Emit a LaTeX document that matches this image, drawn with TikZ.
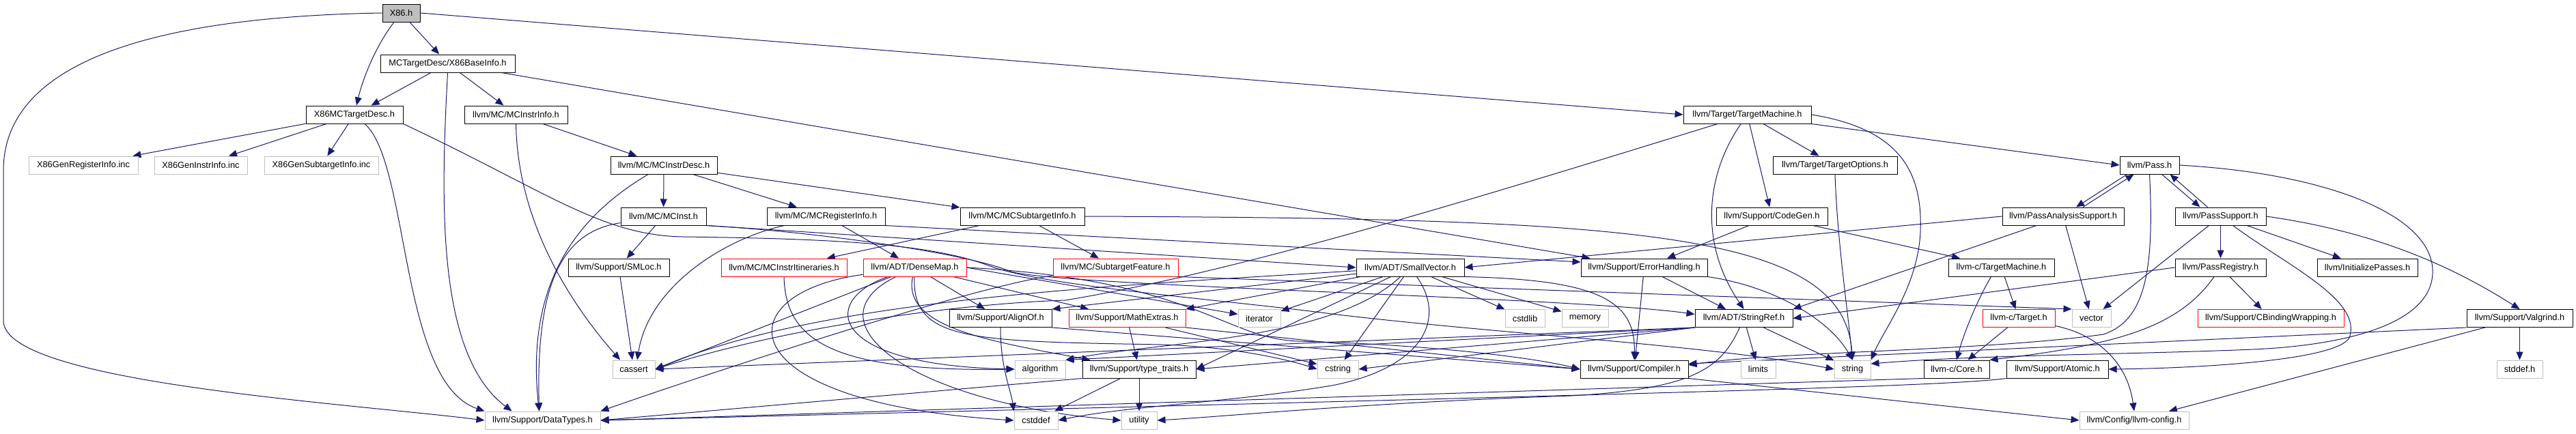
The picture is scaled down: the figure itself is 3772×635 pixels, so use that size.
\documentclass[tikz,border=0pt]{standalone}
\usepackage{fontspec}
\setmainfont{Liberation Sans}
\usetikzlibrary{arrows.meta}
\definecolor{edgeblue}{HTML}{191970}
\definecolor{fillgray}{HTML}{BFBFBF}
\definecolor{bordergray}{HTML}{BFBFBF}
\definecolor{borderred}{HTML}{FF0000}
\newcommand\dxfont{\fontsize{12.8}{15}\selectfont}
\pgfdeclarelayer{edges}
\pgfsetlayers{edges,main}
\tikzset{
  nbox/.style={draw=black, fill=white, line width=1.0pt, minimum height=26pt, inner sep=0pt, font=\dxfont},
  gbox/.style={nbox, draw=bordergray},
  rbox/.style={nbox, draw=borderred},
  lnk/.style={draw=edgeblue, line width=1.0pt, -{Triangle[length=12pt,width=10pt]}},
}
\begin{document}
\begin{tikzpicture}[x=1pt,y=-1pt]
\useasboundingbox (0,0) rectangle (3772,635);
% ---------------- nodes ----------------
\node[nbox, fill=fillgray, minimum width=55] (x86) at (587.5,19) {X86.h};
\node[nbox, minimum width=197] (base) at (655.5,93) {MCTargetDesc/X86BaseInfo.h};
\node[nbox, minimum width=142] (mctd) at (519,168) {X86MCTargetDesc.h};
\node[nbox, minimum width=151] (instrinfo) at (755.5,168) {llvm/MC/MCInstrInfo.h};
\node[nbox, minimum width=187] (tm) at (2558.5,168) {llvm/Target/TargetMachine.h};
\node[gbox, minimum width=160] (genreg) at (122,242) {X86GenRegisterInfo.inc};
\node[gbox, minimum width=136] (geninstr) at (294,242) {X86GenInstrInfo.inc};
\node[gbox, minimum width=167] (gensub) at (470.5,242) {X86GenSubtargetInfo.inc};
\node[nbox, minimum width=156] (instrdesc) at (972,242) {llvm/MC/MCInstrDesc.h};
\node[nbox, minimum width=182] (topts) at (2687,242) {llvm/Target/TargetOptions.h};
\node[nbox, minimum width=87] (pass) at (3147.5,242) {llvm/Pass.h};
\node[nbox, minimum width=125] (mcinst) at (971.5,317) {llvm/MC/MCInst.h};
\node[nbox, minimum width=173] (reginfo) at (1209.5,317) {llvm/MC/MCRegisterInfo.h};
\node[nbox, minimum width=182] (subinfo) at (1497,317) {llvm/MC/MCSubtargetInfo.h};
\node[nbox, minimum width=163] (codegen) at (2594.5,317) {llvm/Support/CodeGen.h};
\node[nbox, minimum width=178] (pas) at (3021,317) {llvm/PassAnalysisSupport.h};
\node[nbox, minimum width=133] (ps) at (3251.5,317) {llvm/PassSupport.h};
\node[nbox, minimum width=148] (smloc) at (906,392) {llvm/Support/SMLoc.h};
\node[rbox, minimum width=184] (itin) at (1148,392) {llvm/MC/MCInstrItineraries.h};
\node[rbox, minimum width=151] (dm) at (1339.5,392) {llvm/ADT/DenseMap.h};
\node[rbox, minimum width=183] (subfeat) at (1633.5,392) {llvm/MC/SubtargetFeature.h};
\node[nbox, minimum width=158] (sv) at (2065,392) {llvm/ADT/SmallVector.h};
\node[nbox, minimum width=185] (errh) at (2407.5,392) {llvm/Support/ErrorHandling.h};
\node[nbox, minimum width=155] (ctm) at (2930.5,392) {llvm-c/TargetMachine.h};
\node[nbox, minimum width=133] (preg) at (3251.5,392) {llvm/PassRegistry.h};
\node[nbox, minimum width=147] (initp) at (3466.5,392) {llvm/InitializePasses.h};
\node[nbox, minimum width=150] (alignof) at (1465,466.5) {llvm/Support/AlignOf.h};
\node[rbox, minimum width=171] (mathex) at (1650.5,466.5) {llvm/Support/MathExtras.h};
\node[gbox, minimum width=62] (iterator) at (1844,466.5) {iterator};
\node[gbox, minimum width=58] (cstdlib) at (2233,466.5) {cstdlib};
\node[gbox, minimum width=68] (memory) at (2321,466.5) {memory};
\node[nbox, minimum width=143] (sr) at (2553.5,466.5) {llvm/ADT/StringRef.h};
\node[rbox, minimum width=106] (ctarget) at (2956,466.5) {llvm-c/Target.h};
\node[gbox, minimum width=57] (vector) at (3062.5,466.5) {vector};
\node[rbox, minimum width=214] (cbind) at (3325,466.5) {llvm/Support/CBindingWrapping.h};
\node[nbox, minimum width=155] (valgrind) at (3689.5,466.5) {llvm/Support/Valgrind.h};
\node[gbox, minimum width=62] (cassert) at (928,541) {cassert};
\node[gbox, minimum width=74] (algorithm) at (1523,541) {algorithm};
\node[nbox, minimum width=166] (tt) at (1668,541) {llvm/Support/type\_traits.h};
\node[gbox, minimum width=60] (cstring) at (1959,541) {cstring};
\node[nbox, minimum width=158] (compiler) at (2393,541) {llvm/Support/Compiler.h};
\node[gbox, minimum width=51] (limits) at (2574.5,541) {limits};
\node[gbox, minimum width=53] (string) at (2712.5,541) {string};
\node[nbox, minimum width=96] (ccore) at (2865,541) {llvm-c/Core.h};
\node[nbox, minimum width=149] (atomic) at (3012.5,541) {llvm/Support/Atomic.h};
\node[gbox, minimum width=67] (stddef) at (3689.5,541) {stddef.h};
\node[gbox, minimum width=169] (dt) at (794.5,616) {llvm/Support/DataTypes.h};
\node[gbox, minimum width=64] (cstddef) at (1517,616) {cstddef};
\node[gbox, minimum width=52] (utility) at (1668,616) {utility};
\node[gbox, minimum width=160] (cfg) at (3125,616) {llvm/Config/llvm-config.h};
% ---------------- edges ----------------
\begin{pgfonlayer}{edges}
\fill[white] (0,0) rectangle (3772,635);
% X86.h
\draw[lnk] (x86) -- (base);
\draw[lnk] (x86) .. controls (548,70) and (530,120) .. (mctd);
\draw[lnk] (x86.west) .. controls (200,25) and (5,100) .. (5,250) -- (5,470) .. controls (5,560) and (500,590) .. (dt.west);
\draw[lnk] (x86.east) -- (tm.west);
% X86BaseInfo.h
\draw[lnk] (base) -- (mctd);
\draw[lnk] (base) -- (instrinfo);
\draw[lnk] (base.south) .. controls (645,300) and (640,520) .. ([xshift=-45pt]dt.north);
\draw[lnk] (base) -- (errh);
% X86MCTargetDesc.h
\draw[lnk] (mctd) -- (genreg);
\draw[lnk] (mctd) -- (geninstr);
\draw[lnk] (mctd) -- (gensub);
\draw[lnk] (mctd) .. controls (600,240) and (585,560) .. (dt.north west);
\draw[lnk] (mctd.south east) .. controls (800,280) and (880,345) .. (1000,347) .. controls (1250,350) and (1370,360) .. (1450,390) .. controls (1530,420) and (1800,440) .. (1950,460) .. controls (2200,490) and (2500,505) .. (string.west);
% MCInstrInfo.h
\draw[lnk] (instrinfo) -- (instrdesc);
\draw[lnk] (instrinfo.south) .. controls (758,330) and (840,450) .. ([xshift=-20pt]cassert.north);
% MCInstrDesc.h
\draw[lnk] (instrdesc) -- (mcinst);
\draw[lnk] (instrdesc) -- (reginfo);
\draw[lnk] (instrdesc) -- (subinfo);
\draw[lnk] (instrdesc) .. controls (840,320) and (770,420) .. ([xshift=-5pt]dt.north);
% MCInst.h
\draw[lnk] (mcinst) -- (smloc);
\draw[lnk] (mcinst) .. controls (820,340) and (785,420) .. ([xshift=-5pt]dt.north);
\draw[lnk] (mcinst.south east) -- (sv.west);
\draw[lnk] (mcinst.south east) .. controls (1200,340) and (1420,372) .. (1480,398) .. controls (1560,420) and (2300,435) .. ([yshift=6pt]sr.west);
% MCRegisterInfo.h
\draw[lnk] (reginfo) -- (dm);
\draw[lnk] (reginfo.south east) -- ([yshift=8pt]errh.west);
\draw[lnk] (reginfo) .. controls (1060,350) and (950,420) .. ([xshift=5pt]cassert.north);
% MCSubtargetInfo.h
\draw[lnk] (subinfo) -- (itin);
\draw[lnk] (subinfo) -- (subfeat);
\draw[lnk] (subinfo.east) .. controls (2400,320) and (2700,340) .. (string.north);
% SMLoc.h
\draw[lnk] (smloc) -- (cassert);
% MCInstrItineraries.h
\draw[lnk] (itin.south) .. controls (1150,500) and (1220,545) .. (algorithm.west);
% DenseMap.h
\draw[lnk] (dm) -- (alignof);
\draw[lnk] (dm) -- (mathex);
\draw[lnk] (dm) .. controls (1200,440) and (1210,535) .. (algorithm.west);
\draw[lnk] (dm) -- (cassert.east);
\draw[lnk] (dm) .. controls (1060,430) and (1060,590) .. (cstddef.west);
\draw[lnk] (dm) .. controls (1180,470) and (1330,590) .. (utility.west);
\draw[lnk] (dm) .. controls (1320,480) and (1450,500) .. (tt);
\draw[lnk] (dm) .. controls (1335,500) and (1420,500) .. (1700,505) .. controls (1800,508) and (1880,525) .. (cstring.west);
\draw[lnk] (dm.east) -- ([yshift=6pt]iterator.west);
\draw[lnk] (dm.east) .. controls (1750,410) and (1790,495) .. (1900,500) .. controls (2100,505) and (2250,525) .. (compiler.west);
% SubtargetFeature.h
\draw[lnk] (subfeat) .. controls (1420,420) and (1000,560) .. (dt.north east);
\draw[lnk] (subfeat.south east) -- (vector.north west);
% AlignOf.h
\draw[lnk] (alignof.south) .. controls (1465,540) and (1480,570) .. (cstddef.north west);
\draw[lnk] (alignof.south east) -- (compiler.west);
% MathExtras.h
\draw[lnk] (mathex) -- (tt);
\draw[lnk] (mathex.south east) -- (compiler.west);
\draw[lnk] (mathex) -- (cstring);
% type_traits.h
\draw[lnk] (tt.south west) -- (dt.east);
\draw[lnk] (tt) -- (cstddef);
\draw[lnk] (tt) -- (utility);
% SmallVector.h
\draw[lnk] (sv) -- (alignof.north east);
\draw[lnk] (sv) -- (mathex.north east);
\draw[lnk] (sv) -- (iterator);
\draw[lnk] (sv) -- (cstdlib);
\draw[lnk] (sv) -- (memory);
\draw[lnk] (sv) -- (cstring);
\draw[lnk] (sv) -- (tt.east);
\draw[lnk] (sv.south east) .. controls (2340,410) and (2395,440) .. (compiler.north);
\draw[lnk] (sv) .. controls (1950,500) and (1700,500) .. (algorithm.north east);
\draw[lnk] (sv) .. controls (1600,420) and (1200,440) .. (cassert.east);
\draw[lnk] (sv) .. controls (2120,470) and (2080,540) .. (1950,565) .. controls (1800,590) and (1650,595) .. (cstddef.east);
% ErrorHandling.h
\draw[lnk] (errh) -- (sr);
\draw[lnk] (errh) -- (compiler);
\draw[lnk] (errh) .. controls (2600,420) and (2680,470) .. (string.north);
% StringRef.h
\draw[lnk] (sr) -- (limits);
\draw[lnk] (sr) -- (string);
\draw[lnk] (sr.south west) -- (tt.east);
\draw[lnk] (sr.south west) -- (algorithm.north east);
\draw[lnk] (sr.south west) -- (cassert.east);
\draw[lnk] (sr.south west) -- (cstring.east);
\draw[lnk] (sr) .. controls (2520,540) and (2480,570) .. (2300,580) .. controls (2000,590) and (1800,610) .. (utility.east);
% TargetMachine.h
\draw[lnk] (tm) -- (topts);
\draw[lnk] (tm) -- (codegen);
\draw[lnk] (tm) .. controls (2495,260) and (2490,360) .. (sr.north);
\draw[lnk] (tm.south east) -- (pass.west);
\draw[lnk] (tm.east) .. controls (2790,190) and (2815,260) .. (2812,340) .. controls (2808,420) and (2760,480) .. (string.north east);
\draw[lnk] (tm) .. controls (2100,310) and (1800,400) .. (1560,440) .. controls (1400,445) and (1150,480) .. (cassert.east);
% TargetOptions.h
\draw[lnk] (topts.south) .. controls (2690,350) and (2705,450) .. (string.north);
% CodeGen.h
\draw[lnk] (codegen) -- (errh);
\draw[lnk] (codegen) -- (ctm);
% Pass.h
\draw[lnk] ([xshift=11pt]pass.south west) -- ([xshift=19pt]pas.north);
\draw[lnk] ([xshift=29pt]pas.north) -- ([xshift=21pt]pass.south west);
\draw[lnk] ([xshift=-26pt]pass.south east) -- ([xshift=-30pt]ps.north);
\draw[lnk] ([xshift=-19pt]ps.north) -- ([xshift=-14pt]pass.south east);
\draw[lnk] (pass.south) .. controls (3155,400) and (3140,470) .. (3080,490) .. controls (2900,515) and (2600,515) .. ([yshift=6pt]compiler.east);
\draw[lnk] (pass.east) .. controls (3420,255) and (3565,320) .. (3562,400) .. controls (3560,470) and (3450,505) .. (3300,512) .. controls (3100,520) and (2900,520) .. ([yshift=8pt]string.east);
% PassAnalysisSupport.h
\draw[lnk] (pas.west) -- (sv.east);
\draw[lnk] (pas) -- (sr.north east);
\draw[lnk] (pas) -- (vector);
% PassSupport.h
\draw[lnk] (ps) -- (preg);
\draw[lnk] (ps) -- (initp);
\draw[lnk] (ps) -- (vector);
\draw[lnk] (ps) .. controls (3350,390) and (3460,440) .. (3440,495) .. controls (3420,530) and (3200,540) .. (atomic.east);
\draw[lnk] (ps.east) .. controls (3480,340) and (3590,390) .. (valgrind.north);
% PassRegistry.h
\draw[lnk] (preg.west) -- (sr.east);
\draw[lnk] (preg) -- (cbind);
\draw[lnk] (preg) .. controls (3190,480) and (3100,505) .. (ccore.north east);
% llvm-c/TargetMachine.h
\draw[lnk] ([xshift=-15pt]ctm.south) .. controls (2895,440) and (2875,490) .. (ccore.north);
\draw[lnk] (ctm) -- (ctarget);
% llvm-c/Target.h
\draw[lnk] (ctarget) -- (ccore);
\draw[lnk] (ctarget) .. controls (3070,490) and (3115,530) .. (cfg.north);
% llvm-c/Core.h, Atomic.h
\draw[lnk] (ccore.south west) -- (dt.east);
\draw[lnk] (atomic.south west) .. controls (2850,566) and (2500,575) .. (dt.east);
% Valgrind.h
\draw[lnk] (valgrind) -- (stddef);
\draw[lnk] (valgrind) -- (cfg);
\draw[lnk] (valgrind.south west) -- ([yshift=8pt]compiler.east);
% Compiler.h
\draw[lnk] (compiler.south east) -- (cfg.west);
\end{pgfonlayer}
\end{tikzpicture}
\end{document}
